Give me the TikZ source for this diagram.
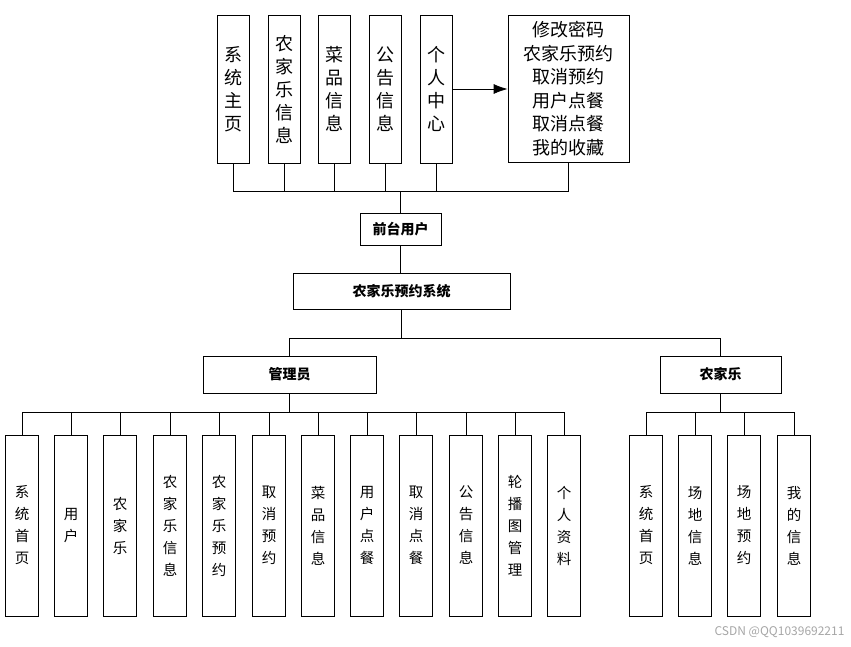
\documentclass[tikz,border=0pt]{standalone}
\usepackage{fontspec}
\setmainfont{Noto Sans CJK SC}
\usetikzlibrary{arrows.meta}
\begin{document}
\begin{tikzpicture}[x=1pt,y=-1pt,
  bx/.style={draw,line width=0.8pt,inner sep=0pt},
  ln/.style={line width=0.8pt}]
\useasboundingbox (0,0) rectangle (851,646);
% top boxes
\newcommand{\tb}[4]{\node[bx,minimum width=32,minimum height=148,align=center,font=\fontsize{18}{23}\selectfont] (#1) at (#2,89) {#3};}
\tb{t1}{233}{系\\统\\主\\页}{}
\tb{t2}{284}{农\\家\\乐\\信\\息}{}
\tb{t3}{334}{菜\\品\\信\\息}{}
\tb{t4}{385}{公\\告\\信\\息}{}
\tb{t5}{436}{个\\人\\中\\心}{}
\node[bx,minimum width=121,minimum height=147,align=center,font=\fontsize{18}{23.5}\selectfont] (pc) at (568.5,88.5) {修改密码\\农家乐预约\\取消预约\\用户点餐\\取消点餐\\我的收藏};
\draw[ln,-{Latex[length=14pt,width=10pt]}] (t5.east) -- (pc.west|-t5.east);
\coordinate (bus) at (401,191);
\foreach \n in {t1,t2,t3,t4,t5,pc} \draw[ln] (\n.south) -- (\n.south|-bus);
\draw[ln] (t1.south|-bus) -- (pc.south|-bus);
\node[bx,minimum width=81,minimum height=32,font=\bfseries\fontsize{14}{16}\selectfont] (fu) at (400.5,229) {前台用户};
\draw[ln] (fu.north|-bus) -- (fu.north);
\node[bx,minimum width=217,minimum height=36,font=\bfseries\fontsize{14}{16}\selectfont] (sys) at (401.5,291) {农家乐预约系统};
\draw[ln] (fu.south) -- (sys.north-|fu.south);
\node[bx,minimum width=173,minimum height=37,font=\bfseries\fontsize{14}{16}\selectfont] (adm) at (289.5,374.5) {管理员};
\node[bx,minimum width=121,minimum height=37,font=\bfseries\fontsize{14}{16}\selectfont] (nj) at (720.5,374.5) {农家乐};
\coordinate (m) at (401,338);
\draw[ln] (sys.south-|m) -- (m);
\draw[ln] (adm.north) -- (adm.north|-m) -- (nj.north|-m) -- (nj.north);
% bottom boxes
\newcommand{\bb}[3]{\node[bx,minimum width=33,minimum height=181,align=center,font=\fontsize{14.5}{22}\selectfont] (#1) at (#2,525.5) {#3};}
\bb{a1}{22}{系\\统\\首\\页}
\bb{a2}{71}{用\\户}
\bb{a3}{120}{农\\家\\乐}
\bb{a4}{170}{农\\家\\乐\\信\\息}
\bb{a5}{219}{农\\家\\乐\\预\\约}
\bb{a6}{269}{取\\消\\预\\约}
\bb{a7}{318}{菜\\品\\信\\息}
\bb{a8}{367}{用\\户\\点\\餐}
\bb{a9}{416}{取\\消\\点\\餐}
\bb{a10}{466}{公\\告\\信\\息}
\bb{a11}{515}{轮\\播\\图\\管\\理}
\bb{a12}{564}{个\\人\\资\\料}
\bb{b1}{646}{系\\统\\首\\页}
\bb{b2}{695}{场\\地\\信\\息}
\bb{b3}{744}{场\\地\\预\\约}
\bb{b4}{794}{我\\的\\信\\息}
\coordinate (ab) at (289.5,412);
\draw[ln] (adm.south) -- (ab);
\draw[ln] (a1.north|-ab) -- (a12.north|-ab);
\foreach \n in {a1,a2,a3,a4,a5,a6,a7,a8,a9,a10,a11,a12} \draw[ln] (\n.north|-ab) -- (\n.north);
\draw[ln] (nj.south) -- (nj.south|-ab);
\draw[ln] (b1.north|-ab) -- (b4.north|-ab);
\foreach \n in {b1,b2,b3,b4} \draw[ln] (\n.north|-ab) -- (\n.north);
\node[anchor=east,text=black!35,font=\fontsize{12}{14}\selectfont] (wm) at (848,632) {CSDN @QQ1039692211};
\end{tikzpicture}
\end{document}
